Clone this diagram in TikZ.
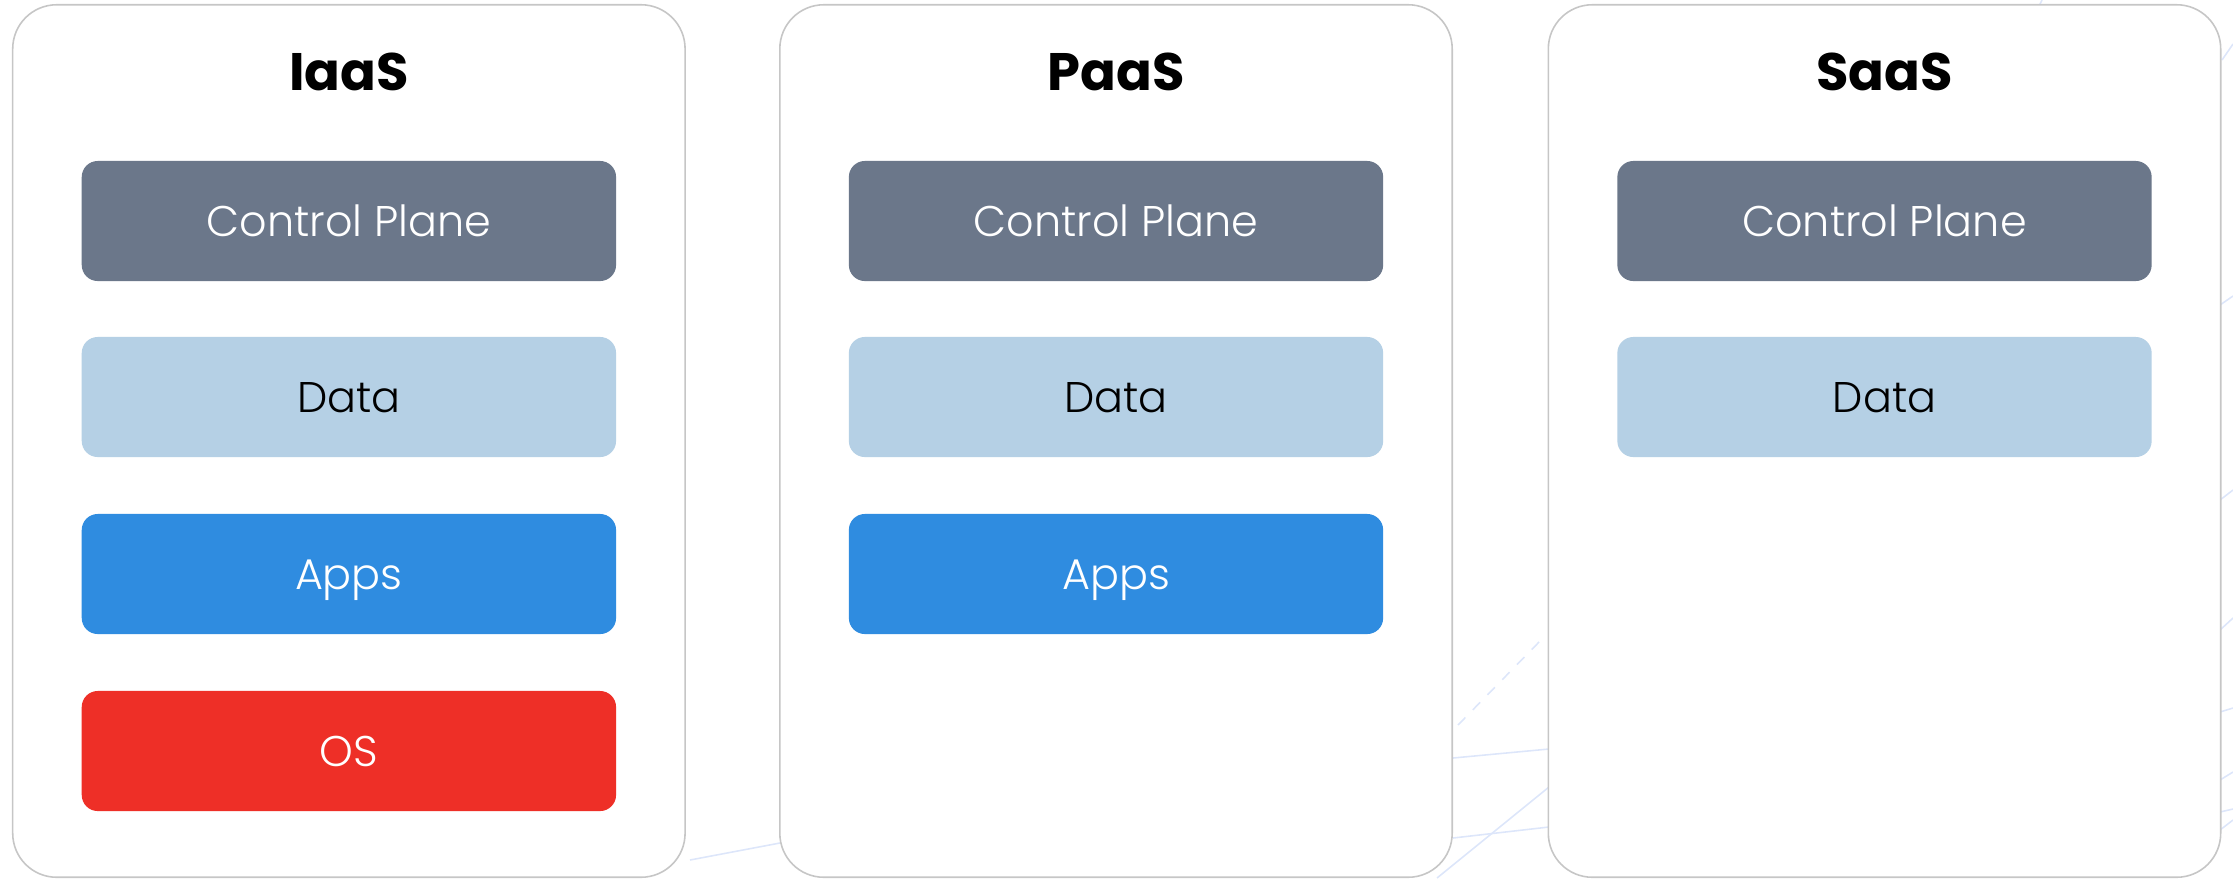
\documentclass[tikz,border=0pt]{standalone}
\usepackage{fontspec}
\setmainfont{Poppins}
\newfontfamily\lightfont{Poppins Light}
\usetikzlibrary{positioning}

\definecolor{panelline}{HTML}{C6C6C6}
\definecolor{bgline}{HTML}{DDE6FA}
\definecolor{ctrlgray}{HTML}{6B778A}
\definecolor{datablue}{HTML}{B5D0E5}
\definecolor{appsblue}{HTML}{2F8CE0}
\definecolor{osred}{HTML}{EE2F27}

\tikzset{
  panel/.style={draw=panelline,line width=0.45pt,fill=white,rounded corners=0.44cm,
    minimum width=6.72cm,minimum height=8.72cm,inner sep=0pt},
  title/.style={anchor=base,font=\bfseries\fontsize{15}{18}\selectfont,inner sep=0pt},
  layer/.style={rounded corners=0.16cm,minimum width=5.34cm,minimum height=1.2cm,
    inner sep=0pt,text height=0.3cm,text depth=0cm,font=\lightfont\fontsize{12.2}{14}\selectfont},
  bgstroke/.style={bgline,line width=0.45pt}
}

\begin{document}
\begin{tikzpicture}[x=0.01cm,y=-0.01cm]
\useasboundingbox (0,0) rectangle (2233,878);
% faint scenery behind the panels
\draw[bgstroke] (690,860) -- (780,843);
\draw[bgstroke] (1453,758) -- (1549,749);
\draw[bgstroke] (1453,838) -- (1549,827);
\draw[bgstroke] (1437,878) -- (1549,787);
\draw[bgstroke,dashed] (1458,725) -- (1541,640);
\draw[bgstroke] (2220,630) -- (2233,618);
\draw[bgstroke] (2220,712) -- (2233,708);
\draw[bgstroke] (2220,780) -- (2233,772);
\draw[bgstroke] (2220,812) -- (2233,809);
\draw[bgstroke] (2220,830) -- (2233,820);
\draw[bgstroke] (2220,305) -- (2233,296);
\draw[bgstroke] (2220,500) -- (2233,490);
\draw[bgstroke] (2222,60) -- (2233,44);
\draw[bgstroke] (2036,12) -- (2042,0);

% panels
\node[panel] (iaas) at (348.9,441) {};
\node[panel] (paas) at (1116,441) {};
\node[panel] (saas) at (1884.5,441) {};

% titles
\node[title] (iaastitle) at (348.9,90) {IaaS};
\node[title] (paastitle) at (1116,90) {PaaS};
\node[title] (saastitle) at (1884.5,90) {SaaS};

% IaaS stack
\node[layer,fill=ctrlgray,text=white] (iaasctrl) at (348.9,221) {Control Plane};
\node[layer,fill=datablue,text=black] (iaasdata) at (348.9,397) {Data};
\node[layer,fill=appsblue,text=white] (iaasapps) at (348.9,574) {Apps};
\node[layer,fill=osred,text=white] (iaasos) at (348.9,751) {OS};

% PaaS stack
\node[layer,fill=ctrlgray,text=white] (paasctrl) at (1116,221) {Control Plane};
\node[layer,fill=datablue,text=black] (paasdata) at (1116,397) {Data};
\node[layer,fill=appsblue,text=white] (paasapps) at (1116,574) {Apps};

% SaaS stack
\node[layer,fill=ctrlgray,text=white] (saasctrl) at (1884.5,221) {Control Plane};
\node[layer,fill=datablue,text=black] (saasdata) at (1884.5,397) {Data};
\end{tikzpicture}
\end{document}
